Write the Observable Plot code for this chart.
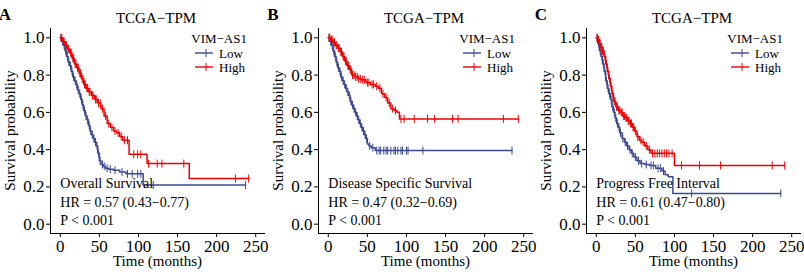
<!DOCTYPE html>
<html>
<head>
<meta charset="utf-8">
<script src="https://cdn.jsdelivr.net/npm/d3@7"></script>
<script src="https://cdn.jsdelivr.net/npm/@observablehq/plot@0.6"></script>
<style>
  body { margin: 0; background: #fff; }
  #row { display: flex; width: 804px; height: 278px; }
  #row > div { width: 268px; height: 278px; }
</style>
</head>
<body>
<div id="row"><div id="pA"></div><div id="pB"></div><div id="pC"></div></div>
<script>
const panelLetters = ["A", "B", "C"];
const panelTitle = "TCGA−TPM";
const endpoints = ["Overall Survival", "Disease Specific Survival", "Progress Free Interval"];
const hrTexts = ["HR = 0.57 (0.43−0.77)", "HR = 0.47 (0.32−0.69)", "HR = 0.61 (0.47−0.80)"];
const pTexts = ["P < 0.001", "P < 0.001", "P < 0.001"];
const legendTitle = "VIM−AS1";
const groups = ["Low", "High"];
const xTicks = [0, 50, 100, 150, 200, 250];
const yTicks = [0, 0.2, 0.4, 0.6, 0.8, 1.0];

// Panel A: Overall Survival
const A_lowT = [0,2,4,6,8,10,12,14,16,18,20,22,24,26,28,30,32,34,36,38,40,42,44,46,48,50,52,55,58,62,68,76,84,106];
const A_lowS = [1.0,0.98,0.96,0.93,0.90,0.87,0.85,0.82,0.79,0.77,0.75,0.72,0.70,0.67,0.64,0.61,0.58,0.56,0.53,0.50,0.48,0.46,0.44,0.42,0.38,0.34,0.32,0.31,0.30,0.295,0.29,0.28,0.27,0.21];
const A_lowC = [1,3,5,7,9,11,13,15,17,19,21,23,25,27,29,31,33,35,37,39,41,43,45,47,49,51,54,57,60,64,70,79,86,92,99,103,119,237];
const A_highT = [0,3,6,9,12,15,18,21,24,27,30,33,36,40,44,48,52,56,60,64,68,72,76,80,88,111,165];
const A_highS = [1.0,0.98,0.96,0.94,0.92,0.89,0.86,0.84,0.81,0.78,0.75,0.73,0.71,0.69,0.67,0.65,0.62,0.58,0.54,0.52,0.50,0.49,0.47,0.45,0.375,0.325,0.245];
const A_highC = [1,2,4,5,7,8,10,11,13,14,16,17,19,20,22,23,25,26,28,29,31,32,34,35,37,38,41,42,45,46,49,51,54,58,62,66,70,74,78,82,86,94,99,103,113,124,130,158,224,241];

// Panel B: Disease Specific Survival
const B_lowT = [0,2,4,6,8,10,12,14,16,18,20,22,24,26,28,30,32,34,36,38,40,42,44,46,48,50,52,55,60];
const B_lowS = [1.0,0.98,0.96,0.93,0.90,0.87,0.84,0.82,0.79,0.77,0.75,0.73,0.71,0.69,0.66,0.64,0.62,0.60,0.58,0.56,0.54,0.52,0.50,0.48,0.46,0.43,0.42,0.41,0.395];
const B_lowC = [1,3,5,7,9,11,13,15,17,19,21,23,25,27,29,31,33,35,37,39,41,43,45,47,49,53,57,62,65,67,71,74,76,80,84,86,89,93,95,100,102,121,235];
const B_highT = [0,3,6,9,12,15,18,21,24,27,30,34,38,42,48,54,60,64,68,72,76,80,84,88,91];
const B_highS = [1.0,0.99,0.975,0.96,0.945,0.925,0.90,0.875,0.85,0.83,0.80,0.79,0.78,0.775,0.76,0.75,0.74,0.73,0.70,0.68,0.65,0.62,0.61,0.60,0.565];
const B_highC = [1,2,4,5,7,8,10,11,13,14,16,17,19,20,22,23,25,26,28,29,31,33,35,37,39,41,44,46,50,52,56,58,62,66,70,74,78,82,86,93,97,110,127,136,159,166,224,243];

// Panel C: Progress Free Interval
const C_lowT = [0,2,4,6,8,10,12,14,16,18,20,22,24,26,28,30,33,36,39,42,45,48,52,56,62,68,76,84,88,92,98];
const C_lowS = [1.0,0.97,0.93,0.90,0.86,0.82,0.77,0.73,0.70,0.67,0.63,0.60,0.57,0.54,0.52,0.49,0.46,0.44,0.42,0.40,0.38,0.36,0.34,0.325,0.32,0.315,0.30,0.285,0.265,0.255,0.165];
const C_lowC = [1,3,5,7,9,11,13,15,17,19,21,23,25,27,29,31,34,37,40,43,46,50,54,58,64,70,73,79,82,86,122,236];
const C_highT = [0,2,4,6,8,10,12,14,16,18,20,22,25,28,31,34,37,40,43,46,49,52,55,58,62,66,70,100];
const C_highS = [1.0,0.99,0.97,0.95,0.93,0.90,0.86,0.82,0.78,0.74,0.70,0.66,0.63,0.61,0.60,0.58,0.57,0.555,0.54,0.52,0.50,0.47,0.45,0.44,0.42,0.40,0.38,0.315];
const C_highC = [1,2,3,4,5,6,7,8,9,11,13,15,17,19,21,23,24,26,27,29,30,32,33,35,36,38,39,41,42,44,45,47,48,50,53,57,60,64,68,72,75,78,81,84,87,90,93,97,109,132,159,225,241];

const colors = {Low: "#3B4992", High: "#EE0000"};
const FONT = "Liberation Serif, Times New Roman, serif";

function curve(T, S, C) {
  const end = Math.max(d3.max(T), d3.max(C));
  const pts = T.map((t, i) => ({t, s: S[i]}));
  pts.push({t: end, s: S[S.length - 1]});
  const at = (c) => { let s = 1; for (let i = 0; i < T.length; i++) if (T[i] <= c) s = S[i]; return s; };
  const cens = C.map(c => ({t: c, s: at(c)}));
  return {pts, cens};
}

const tickSymbol = {
  draw(ctx, size) { const r = Math.sqrt(size / Math.PI); ctx.moveTo(0, -r); ctx.lineTo(0, r); }
};

function decorations(i) {
  return () => {
    const g = d3.create("svg:g").attr("font-family", FONT).attr("fill", "black");
    g.append("text").attr("x", 5).attr("y", 14).attr("dy", "0.35em")
      .attr("font-size", 17).attr("font-weight", "bold").text(panelLetters[i]);
    g.append("text").attr("x", 156).attr("y", 17.5).attr("dy", "0.35em")
      .attr("text-anchor", "middle").attr("font-size", 15).text(panelTitle);
    g.append("text").attr("transform", "translate(10,130.5) rotate(-90)").attr("dy", "0.35em")
      .attr("text-anchor", "middle").attr("font-size", 15).text("Survival probability");
    g.append("text").attr("x", 157.5).attr("y", 261).attr("dy", "0.35em")
      .attr("text-anchor", "middle").attr("font-size", 15).text("Time (months)");
    const lg = g.append("g").attr("font-size", 13);
    lg.append("text").attr("x", 247).attr("y", 38).attr("dy", "0.35em")
      .attr("text-anchor", "end").text(legendTitle);
    groups.forEach((grp, k) => {
      const y = 53 + k * 14;
      lg.append("line").attr("x1", 195).attr("x2", 213).attr("y1", y).attr("y2", y)
        .attr("stroke", colors[grp]).attr("stroke-width", 1.4);
      lg.append("line").attr("x1", 206).attr("x2", 206).attr("y1", y - 4).attr("y2", y + 4)
        .attr("stroke", colors[grp]).attr("stroke-width", 1);
      lg.append("text").attr("x", 219).attr("y", y).attr("dy", "0.35em").attr("text-anchor", "start").text(grp);
    });
    return g.node();
  };
}

function panel(i, low, high) {
  const L = curve(...low), H = curve(...high);
  return Plot.plot({
    width: 268, height: 278,
    marginLeft: 50, marginRight: 3, marginTop: 28, marginBottom: 45,
    style: {fontFamily: FONT, fontSize: "17px", background: "white", color: "black", overflow: "visible"},
    x: {domain: [-12.5, 262.5], label: null},
    y: {domain: [-0.05, 1.05], label: null},
    marks: [
      Plot.ruleX([-12.5], {stroke: "black", strokeWidth: 1}),
      Plot.ruleY([-0.05], {stroke: "black", strokeWidth: 1}),
      Plot.axisX({ticks: xTicks, tickSize: 4, tickPadding: 2, label: null, tickFormat: d3.format("d"), fontSize: 17}),
      Plot.axisY({ticks: yTicks, tickSize: 4, tickPadding: 2, label: null, tickFormat: d3.format(".1f"), fontSize: 17}),
      Plot.line(L.pts, {x: "t", y: "s", curve: "step-after", stroke: colors.Low, strokeWidth: 1.5}),
      Plot.dot(L.cens, {x: "t", y: "s", symbol: tickSymbol, r: 4, stroke: colors.Low, fill: "none", strokeWidth: 1}),
      Plot.line(H.pts, {x: "t", y: "s", curve: "step-after", stroke: colors.High, strokeWidth: 1.5}),
      Plot.dot(H.cens, {x: "t", y: "s", symbol: tickSymbol, r: 4, stroke: colors.High, fill: "none", strokeWidth: 1}),
      Plot.text([endpoints[i]], {x: 0, y: 0.22, text: d => d, textAnchor: "start", lineAnchor: "middle", fontSize: 14, fill: "black"}),
      Plot.text([hrTexts[i]], {x: 0, y: 0.118, text: d => d, textAnchor: "start", lineAnchor: "middle", fontSize: 14, fill: "black"}),
      Plot.text([pTexts[i]], {x: 0, y: 0.02, text: d => d, textAnchor: "start", lineAnchor: "middle", fontSize: 14, fill: "black"}),
      decorations(i)
    ]
  });
}

document.getElementById("pA").append(panel(0, [A_lowT, A_lowS, A_lowC], [A_highT, A_highS, A_highC]));
document.getElementById("pB").append(panel(1, [B_lowT, B_lowS, B_lowC], [B_highT, B_highS, B_highC]));
document.getElementById("pC").append(panel(2, [C_lowT, C_lowS, C_lowC], [C_highT, C_highS, C_highC]));
</script>
</body>
</html>
